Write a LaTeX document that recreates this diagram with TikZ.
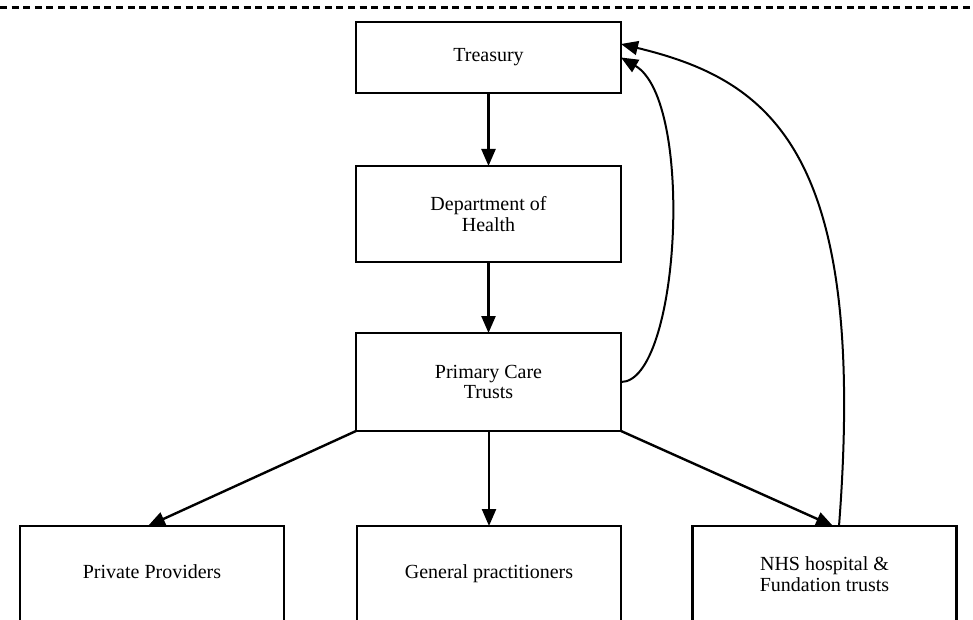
\documentclass[tikz,border=0pt]{standalone}
\usepackage{fontspec}
\setmainfont{Liberation Serif}
\usetikzlibrary{arrows.meta}
\begin{document}
\begin{tikzpicture}[x=0.5pt,y=-0.5pt,
  box/.style={draw,line width=1.1pt,rectangle,inner sep=0pt,outer sep=0pt,
    minimum width=132.5pt,align=center,
    font=\fontsize{10}{10.4}\selectfont},
  conn/.style={line width=1.2pt,-{Triangle[length=8.5pt,width=7pt]}},
  curv/.style={line width=1pt,-{Triangle[length=8.5pt,width=7pt]}}]
\useasboundingbox (0,0) rectangle (973,620);
\clip (0,0) rectangle (973,620);
\draw[line width=1.1pt,dash pattern=on 3.5pt off 2.3pt] (0,7.5) -- (973,7.5);
\node[box,minimum height=35.5pt] (treasury) at (488.5,57.5) {Treasury};
\node[box,minimum height=48pt] (doh) at (488.5,214) {Department of\\Health};
\node[box,minimum height=49pt] (pct) at (488.5,382) {Primary Care\\Trusts};
\node[box,minimum width=132pt,minimum height=48pt] (pp) at (152,574) {\strut Private Providers};
\node[box,minimum width=132pt,minimum height=48pt] (gp) at (489,574) {\strut General practitioners};
\node[box,minimum width=132pt,minimum height=48pt] (nhs) at (824.5,574) {NHS hospital \&\\Fundation trusts};
\coordinate (ppin) at (148,526);
\coordinate (nhsin) at (833,526);
\coordinate (nhsout) at (839,526);
\coordinate (tin) at (621,44);
\draw[conn] (treasury) -- (doh);
\draw[conn] (doh) -- (pct);
\draw[conn] (pct.south west) -- (ppin);
\draw[conn] (pct.south -| gp.north) -- (gp.north);
\draw[conn] (pct.south east) -- (nhsin);
\draw[curv] (pct.east) .. controls +(59,0) and +(74,43) .. (treasury.east);
\draw[curv] (nhsout) .. controls +(29,-376) and +(149,36) .. (tin);
\end{tikzpicture}
\end{document}
